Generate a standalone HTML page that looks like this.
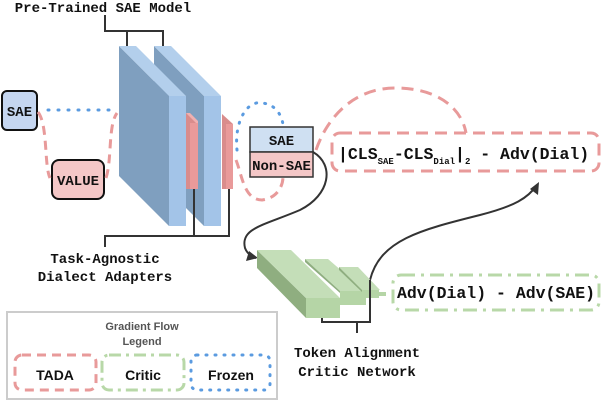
<!DOCTYPE html>
<html><head><meta charset="utf-8"><style>
html,body{margin:0;padding:0;background:#fff;}
svg{display:block;}
.m{font-family:"Liberation Mono",monospace;font-weight:bold;fill:#111;}
.s{font-family:"Liberation Sans",sans-serif;font-weight:bold;}
</style></head><body>
<svg width="602" height="402" viewBox="0 0 602 402" xmlns="http://www.w3.org/2000/svg">
<text x="103" y="12" class="m" font-size="14" text-anchor="middle">Pre-Trained SAE Model</text>
<path d="M105 15 V31 H163 V46 M127 31 V46" fill="none" stroke="#333" stroke-width="2"/>
<polygon points="154,46 204,96 204,226 154,176" fill="#7f9fbf"/>
<polygon points="154,46 171,46 221,96 204,96" fill="#b3cfec"/>
<rect x="204" y="96" width="17" height="130" fill="#a3c4e8"/>
<polygon points="119,46 169,96 169,226 119,176" fill="#7f9fbf"/>
<polygon points="119,46 136,46 186,96 169,96" fill="#b3cfec"/>
<rect x="169" y="96" width="17" height="130" fill="#a3c4e8"/>
<polygon points="186,113 198,123 198,189 186,189" fill="#d98c8c"/>
<polygon points="186,113 190,113 198,121 198,125" fill="#f0b0b0"/>
<rect x="190" y="123" width="8" height="66" fill="#e99a9a"/>
<polygon points="222,114 233,124 233,189 222,189" fill="#d98c8c"/>
<rect x="226" y="124" width="7" height="65" fill="#e99a9a"/>
<path d="M194 189 V236 M229 189 V236 H105 V247" fill="none" stroke="#333" stroke-width="2"/>
<text x="105" y="263" class="m" font-size="14" text-anchor="middle">Task-Agnostic</text>
<text x="105" y="281" class="m" font-size="14" text-anchor="middle">Dialect Adapters</text>
<rect x="2" y="91" width="35" height="39" rx="5" fill="#c5d6f0" stroke="#111" stroke-width="2"/>
<text x="19.5" y="116" class="m" font-size="14" text-anchor="middle">SAE</text>
<rect x="52" y="160" width="52" height="39" rx="7" fill="#f4c7c7" stroke="#111" stroke-width="2"/>
<text x="78" y="185" class="m" font-size="14" text-anchor="middle">VALUE</text>
<path d="M48 110 H117" stroke="#5b9be0" stroke-width="3" stroke-dasharray="1 9" stroke-linecap="round"/>
<path d="M38 112 C48 125 44 165 50 178 M106 178 C112 160 108 125 117 113" fill="none" stroke="#e89a9a" stroke-width="3" stroke-dasharray="9 6"/>
<path d="M237 150 C234 120 248 100 262 103 C275 104 282 115 283 125" fill="none" stroke="#5b9be0" stroke-width="3" stroke-dasharray="1 8" stroke-linecap="round"/>
<path d="M236 160 C242 175 244 200 262 200 C278 198 283 185 283 177" fill="none" stroke="#e89a9a" stroke-width="3" stroke-dasharray="9 6"/>
<rect x="250" y="127" width="63" height="25" fill="#cfe0f2" stroke="#333" stroke-width="1.5"/>
<text x="281.5" y="145" class="m" font-size="14" text-anchor="middle">SAE</text>
<rect x="250" y="152" width="63" height="25" fill="#f4c7c7" stroke="#333" stroke-width="1.5"/>
<text x="281.5" y="170" class="m" font-size="14" text-anchor="middle">Non-SAE</text>
<path d="M316 150 C330 110 360 88 395 88 C440 88 462 110 466 133" fill="none" stroke="#e89a9a" stroke-width="3" stroke-dasharray="12 7"/>
<rect x="332" y="133" width="267" height="38" rx="8" fill="none" stroke="#e89a9a" stroke-width="3" stroke-dasharray="12 7"/>
<text x="338" y="159" class="m" font-size="16.5">|CLS<tspan font-size="9" dy="5">SAE</tspan><tspan dy="-5">-CLS</tspan><tspan font-size="9" dy="5">Dial</tspan><tspan dy="-5">|</tspan><tspan font-size="9" dy="5">2</tspan><tspan dy="-5"> - Adv(Dial)</tspan></text>
<path d="M313 152 C335 165 330 195 300 210 C265 225 240 228 245 248 C247 253 250 256 256 258" fill="none" stroke="#333" stroke-width="2"/>
<polygon points="258,258 246,261 249,251" fill="#333"/>
<path d="M370 280 C380 240 420 230 480 215 C515 206 528 198 537 185" fill="none" stroke="#333" stroke-width="2"/>
<polygon points="539,182 538,195 530,189" fill="#333"/>
<polygon points="257,250 306,298 306,318 257,268" fill="#8fae80"/>
<polygon points="257,250 291,250 340,298 306,298" fill="#c4deb8"/>
<rect x="306" y="298" width="34" height="20" fill="#b5d5a6"/>
<polygon points="305,259 328,259 365,291 340,291" fill="#c4deb8"/>
<polygon points="305,259 340,291 340,293 305,262" fill="#8fae80"/>
<rect x="340" y="291" width="26" height="14" fill="#b5d5a6"/>
<polygon points="339,267 358,267 380,290 362,290" fill="#c4deb8"/>
<polygon points="339,267 362,290 362,292 339,270" fill="#8fae80"/>
<rect x="362" y="290" width="17" height="8" fill="#b5d5a6"/>
<rect x="378" y="292" width="8" height="4" fill="#b5d5a6"/>
<path d="M322 318 V322 H370 V280 M357 322 V333" fill="none" stroke="#333" stroke-width="2"/>
<text x="357" y="357" class="m" font-size="14" text-anchor="middle">Token Alignment</text>
<text x="357" y="376" class="m" font-size="14" text-anchor="middle">Critic Network</text>
<rect x="393" y="275" width="206" height="35" rx="8" fill="none" stroke="#b8d8a8" stroke-width="3" stroke-dasharray="14 6 3 6"/>
<text x="397" y="298" class="m" font-size="16.5">Adv(Dial) - Adv(SAE)</text>
<rect x="7" y="312" width="270" height="87" fill="#fff" stroke="#ccc" stroke-width="2"/>
<text x="142" y="330" class="s" font-size="11" fill="#555" text-anchor="middle">Gradient Flow</text>
<text x="142" y="345" class="s" font-size="11" fill="#555" text-anchor="middle">Legend</text>
<rect x="15" y="355" width="81" height="35" rx="7" fill="none" stroke="#e89a9a" stroke-width="3" stroke-dasharray="9 6"/>
<text x="55" y="380" class="s" font-size="14" fill="#111" text-anchor="middle">TADA</text>
<rect x="102" y="355" width="82" height="35" rx="7" fill="none" stroke="#b8d8a8" stroke-width="3" stroke-dasharray="12 5 3 5"/>
<text x="143" y="380" class="s" font-size="14" fill="#111" text-anchor="middle">Critic</text>
<rect x="191" y="355" width="79" height="35" rx="6" fill="none" stroke="#5b9be0" stroke-width="3" stroke-dasharray="1 8" stroke-linecap="round"/>
<text x="231" y="380" class="s" font-size="14" fill="#111" text-anchor="middle">Frozen</text>
</svg>
</body></html>
